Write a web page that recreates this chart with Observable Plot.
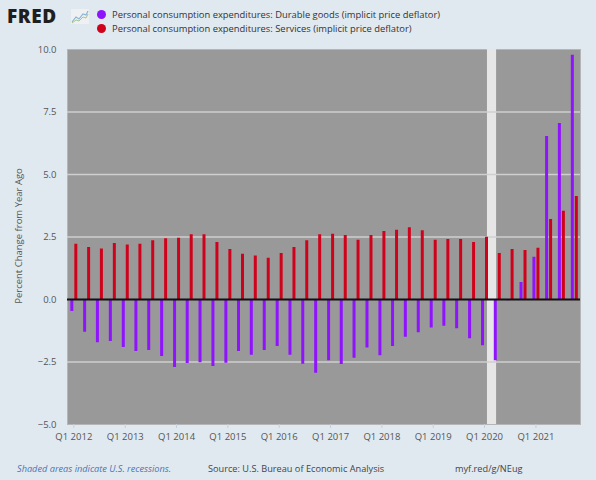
<!DOCTYPE html>
<html>
<head>
<meta charset="utf-8">
<script src="https://cdn.jsdelivr.net/npm/d3@7"></script>
<script src="https://cdn.jsdelivr.net/npm/@observablehq/plot@0.6"></script>
<style>
  html, body { margin: 0; padding: 0; background: #e1e9f0; width: 596px; height: 480px; overflow: hidden; font-family: "Open Sans", sans-serif; }
  #header { position: relative; height: 40px; }
  #logo { position: absolute; left: 7px; top: 3px; font: 800 19px "Open Sans", sans-serif; color: #1f1f1f; letter-spacing: 0.6px; }
  #logo svg { position: absolute; left: 64px; top: 6px; }
  .leg { position: absolute; left: 97px; font-size: 9.4px; color: #333; white-space: nowrap; }
  .leg span.dot { display: inline-block; width: 9px; height: 9px; border-radius: 50%; margin-right: 6px; vertical-align: -1px; }
  #chart { position: relative; height: 410px; }
  #ylabel { position: absolute; left: 18px; top: 196px; transform: translate(-50%, -50%) rotate(-90deg); font-size: 9.5px; color: #555; white-space: nowrap; }
  #footer { position: relative; height: 30px; font-size: 9.2px; color: #444; }
  #footer div { position: absolute; top: 12px; white-space: nowrap; }
</style>
</head>
<body>
<div id="header">
  <div id="logo">FRED<svg width="18" height="15" viewBox="0 0 18 15"><rect x="0" y="0" width="18" height="15" fill="#eef0f2"/><polyline points="1,13 5,8 8,10 12,5 15,6 17,2" fill="none" stroke="#8ab4d8" stroke-width="1.2"/><polyline points="1,14 5,11 8,12 12,8 15,9 17,5" fill="none" stroke="#a6c78a" stroke-width="1"/></svg></div>
  <div class="leg" style="top:8px"><span class="dot" style="background:#9013fe"></span>Personal consumption expenditures: Durable goods (implicit price deflator)</div>
  <div class="leg" style="top:22px"><span class="dot" style="background:#d0021b"></span>Personal consumption expenditures: Services (implicit price deflator)</div>
</div>
<div id="chart"><div id="ylabel">Percent Change from Year Ago</div></div>
<div id="footer">
  <div style="left:17px; color:#4a74b0; font-style:italic;">Shaded areas indicate U.S. recessions.</div>
  <div style="left:208px;">Source: U.S. Bureau of Economic Analysis</div>
  <div style="left:455px;">myf.red/g/NEug</div>
</div>
<script>
// Quarterly observation dates Q1 2012 .. Q4 2021
const quarters = [
  "2012-01-01","2012-04-01","2012-07-01","2012-10-01",
  "2013-01-01","2013-04-01","2013-07-01","2013-10-01",
  "2014-01-01","2014-04-01","2014-07-01","2014-10-01",
  "2015-01-01","2015-04-01","2015-07-01","2015-10-01",
  "2016-01-01","2016-04-01","2016-07-01","2016-10-01",
  "2017-01-01","2017-04-01","2017-07-01","2017-10-01",
  "2018-01-01","2018-04-01","2018-07-01","2018-10-01",
  "2019-01-01","2019-04-01","2019-07-01","2019-10-01",
  "2020-01-01","2020-04-01","2020-07-01","2020-10-01",
  "2021-01-01","2021-04-01","2021-07-01","2021-10-01"
];
// Percent change from year ago
const durableGoods = [
  -0.48, -1.31, -1.73, -1.68,
  -1.92, -2.08, -2.04, -2.28,
  -2.72, -2.56, -2.53, -2.68,
  -2.55, -2.08, -2.23, -2.04,
  -1.88, -2.23, -2.59, -2.95,
  -2.45, -2.60, -2.35, -1.94,
  -2.25, -1.88, -1.51, -1.33,
  -1.14, -1.07, -1.17, -1.57,
  -1.85, -2.45, -0.05, 0.68,
  1.69, 6.52, 7.04, 9.77
];
const services = [
  2.21, 2.08, 2.02, 2.24,
  2.18, 2.21, 2.35, 2.43,
  2.45, 2.59, 2.59, 2.28,
  2.00, 1.81, 1.74, 1.65,
  1.84, 2.08, 2.35, 2.59,
  2.61, 2.56, 2.37, 2.56,
  2.72, 2.77, 2.87, 2.75,
  2.37, 2.40, 2.40, 2.28,
  2.49, 1.84, 2.00, 1.96,
  2.05, 3.20, 3.53, 4.12
];
const yTicks = [-5, -2.5, 0, 2.5, 5, 7.5, 10];
const xTickYears = [2012, 2013, 2014, 2015, 2016, 2017, 2018, 2019, 2020, 2021];
const recession = [{start: "2020-01-22", end: "2020-03-27"}];

const parse = d3.utcParse("%Y-%m-%d");
const dates = quarters.map(parse);
const durData = dates.map((d, i) => ({date: d, value: durableGoods[i]}));
const srvData = dates.map((d, i) => ({date: d, value: services[i]}));
const recData = recession.map(r => ({x1: parse(r.start), x2: parse(r.end)}));
const xTicks = xTickYears.map(y => new Date(Date.UTC(y, 0, 1)));

const chart = Plot.plot({
  width: 596,
  height: 410,
  marginLeft: 67,
  marginRight: 16,
  marginTop: 9,
  marginBottom: 26,
  style: {background: "transparent", fontFamily: "Open Sans, sans-serif", fontSize: "9.5px", color: "#555"},
  x: {type: "utc", domain: [parse("2011-11-17"), parse("2021-11-14")], label: null},
  y: {domain: [-5, 10], label: null},
  marks: [
    Plot.frame({fill: "#999999", stroke: "#b5b5b5"}),
    Plot.rectY(recData, {x1: "x1", x2: "x2", y1: -5, y2: 10, fill: "#e6e6e6"}),
    Plot.gridY([-2.5, 2.5, 5, 7.5], {stroke: "#cfcfcf", strokeOpacity: 1, strokeWidth: 1.5}),
    Plot.axisY({ticks: yTicks, tickSize: 0, tickPadding: 11, tickFormat: d3.format(".1f"), fill: "#555"}),
    Plot.axisX({ticks: xTicks, tickSize: 4, tickPadding: 5, stroke: "#c5cedb", fill: "#555",
      tickFormat: d => `Q${Math.floor(d.getUTCMonth() / 3) + 1} ${d.getUTCFullYear()}`}),
    Plot.ruleX(durData, {x: "date", y1: 0, y2: "value", stroke: "#9013fe", strokeWidth: 3, dx: -2}),
    Plot.ruleX(srvData, {x: "date", y1: 0, y2: "value", stroke: "#d0021b", strokeWidth: 3, dx: 2}),
    Plot.ruleY([0], {stroke: "#111", strokeWidth: 2})
  ]
});
document.getElementById("chart").appendChild(chart);
</script>
</body>
</html>
